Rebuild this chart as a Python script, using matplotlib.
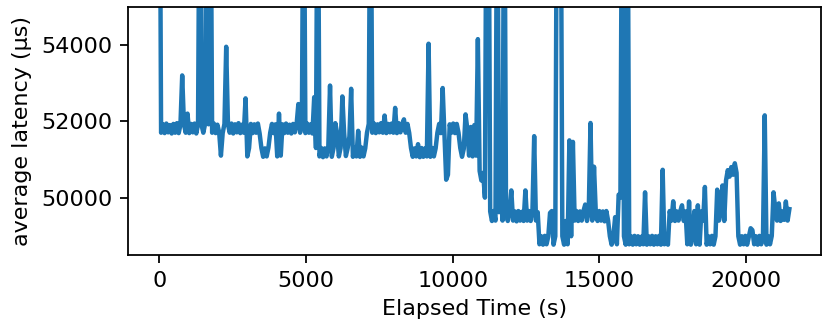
import numpy as np
import matplotlib
matplotlib.use('Agg')
import matplotlib.pyplot as plt

sample_interval = 60  # seconds between samples

# average latency per sample (us), first half of the run
latency_part1 = [
    62000, 51700, 51920, 51690, 51940, 51710, 51900, 51680, 51930, 51700,
    51950, 51690, 51910, 53200, 51920, 51700, 52200, 51690, 51930, 51710,
    51940, 51680, 51920, 60000, 51900, 51700, 51930, 60000, 51920, 60000,
    51700, 51940, 51690, 51910, 51710, 51100, 51690, 51930, 53950, 51920,
    51700, 51940, 51680, 51920, 51710, 51950, 51690, 51910, 51700, 52600,
    51080, 51300, 51930, 51690, 51920, 51700, 51940, 51680, 51300, 51070,
    51290, 51080, 51310, 51700, 51930, 51690, 51920, 51080, 52200, 51100,
    51920, 51690, 51940, 51700, 51910, 51680, 51930, 51710, 51920, 52450,
    51700, 51930, 60000, 51690, 51940, 51700, 51920, 51680, 52630, 51300,
    60000, 51080, 51300, 51060, 51290, 51080, 51310, 52935, 51070, 51300,
    51950, 51700, 51080, 51300, 52650, 51700, 51090, 51290, 51600, 52850,
    51070, 51300, 51080, 51750, 51070, 51310, 51080, 51290, 51700, 51930,
    60000, 51700, 51940, 51690, 51920, 51710, 51950, 51700, 52150, 51690,
    51930, 51710, 51940, 51700, 52350, 51690, 51950, 51710, 51920, 52050,
    51700, 51930, 51690, 51300, 51070, 51290, 51080, 51400, 51060, 51300,
    51070, 51290, 51080, 54030, 51070, 51300, 51080, 51290, 51700, 51930,
    51690, 52870, 51700, 50470, 50600, 51920, 51700, 51940, 51690, 51930,
    51700, 51300, 51070, 51280, 52180, 51800, 51100, 51850, 51080, 51900,
]

# second half of the run
latency_part2 = [
    51100, 54150, 50700, 50450, 50650, 50000, 60000, 60000, 49640, 49390,
    49650, 49400, 60000, 49620, 50700, 49400, 60000, 49640, 49390, 49660,
    50190, 49400, 49640, 49380, 49650, 49400, 49630, 49390, 50190, 49400,
    49650, 49390, 49640, 51610, 49400, 49620, 48780, 48990, 48770, 49000,
    48780, 48980, 49600, 49650, 48770, 48990, 60000, 60000, 60000, 48990,
    48770, 49390, 48780, 51500, 48990, 51460, 49400, 49650, 49390, 49640,
    49400, 49650, 49820, 49390, 49640, 51955, 49400, 50810, 49630, 49390,
    49650, 49400, 49640, 49380, 49650, 49400, 48990, 48770, 49000, 49490,
    48780, 50080, 50000, 60000, 48990, 48770, 60000, 48780, 48990, 48770,
    49000, 48780, 48990, 48770, 48980, 48780, 50140, 48770, 48990, 48780,
    49000, 48770, 48990, 48780, 49000, 48770, 50730, 48780, 48990, 48770,
    49650, 49400, 49905, 49390, 49640, 49400, 49650, 49800, 49390, 49640,
    48780, 49900, 48770, 48990, 49650, 48780, 49800, 48770, 49640, 49400,
    50280, 48770, 48990, 48780, 49000, 48770, 48990, 50210, 49400, 49650,
    50320, 49390, 50450, 50720, 50550, 50800, 50600, 50900, 50650, 48990,
    48770, 48990, 48780, 49000, 48770, 48990, 49200, 49150, 48780, 48990,
    48770, 49000, 48780, 48990, 52155, 48770, 48990, 48780, 49000, 50140,
    49700, 49400, 49850, 49390, 49640, 49420, 49900, 49400, 49700,
]

y_ticks = [50000, 52000, 54000]
y_range = (48500, 55000)

latency = np.array(latency_part1 + latency_part2)
elapsed = np.arange(len(latency)) * sample_interval

fig = plt.figure(figsize=(830 / 160, 332 / 160), dpi=160)
ax = fig.add_subplot(111)
ax.plot(elapsed, latency, lw=2.0)
ax.set_ylim(*y_range)
ax.set_yticks(y_ticks)
ax.set_xlabel('Elapsed Time (s)')
ax.set_ylabel('average latency (µs)')
fig.subplots_adjust(left=0.154, right=0.989, top=0.980, bottom=0.232)
fig.savefig('out.png', dpi=160)
